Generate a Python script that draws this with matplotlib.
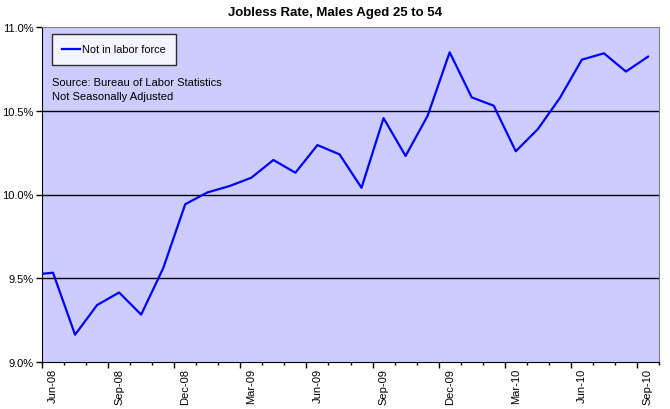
import numpy as np
import matplotlib
matplotlib.use('Agg')
import matplotlib.pyplot as plt
from matplotlib.ticker import FixedLocator, FuncFormatter

plt.rcParams['font.family'] = ['Liberation Sans', 'DejaVu Sans']

# monthly, May-08 .. Sep-10 (May-08 sits just outside the left edge)
months = ['May-08', 'Jun-08', 'Jul-08', 'Aug-08', 'Sep-08', 'Oct-08', 'Nov-08', 'Dec-08',
          'Jan-09', 'Feb-09', 'Mar-09', 'Apr-09', 'May-09', 'Jun-09', 'Jul-09', 'Aug-09',
          'Sep-09', 'Oct-09', 'Nov-09', 'Dec-09', 'Jan-10', 'Feb-10', 'Mar-10', 'Apr-10',
          'May-10', 'Jun-10', 'Jul-10', 'Aug-10', 'Sep-10']
not_in_lf = [9.52, 9.533, 9.163, 9.34, 9.415, 9.283, 9.56, 9.942,
             10.012, 10.05, 10.10, 10.206, 10.13, 10.295, 10.24, 10.04,
             10.456, 10.23, 10.47, 10.849, 10.58, 10.53, 10.258, 10.39,
             10.576, 10.805, 10.843, 10.734, 10.823]
label_months = ['Jun-08', 'Sep-08', 'Dec-08', 'Mar-09', 'Jun-09', 'Sep-09', 'Dec-09',
                'Mar-10', 'Jun-10', 'Sep-10']

x = np.arange(len(months)) - 1  # Jun-08 -> 0

fig = plt.figure(figsize=(6.7, 4.1), dpi=100)
ax = fig.add_axes([42/670, 1 - 363/410, (659 - 42)/670, (363 - 28)/410])
ax.set_facecolor('#CCCCFF')

for g in [9.5, 10.0, 10.5]:
    ax.axhline(g, color='black', lw=1.0, zorder=1)

ax.plot(x, not_in_lf, color='#0000FF', lw=1.6, zorder=3, label='Not in labor force')

ax.set_xlim(-0.5, 27.5)
ax.set_ylim(9.0, 11.0)

ax.set_yticks([9.0, 9.5, 10.0, 10.5, 11.0])
ax.yaxis.set_major_formatter(FuncFormatter(lambda v, p: f'{v:.1f}%'))

# ticks at category boundaries, labels at category centres
ax.xaxis.set_major_locator(FixedLocator(np.arange(-0.5, 28, 3)))
ax.xaxis.set_minor_locator(FixedLocator(np.arange(-0.5, 28, 1)))
ax.xaxis.set_major_formatter(FuncFormatter(lambda v, p: ''))
ax.tick_params(axis='x', which='major', length=4, width=1, direction='out')
ax.tick_params(axis='x', which='minor', length=2, width=1, direction='out')
ax.tick_params(axis='y', length=4, width=1, direction='out', labelsize=8, pad=2)

lbl_pos = [months.index(m) - 1 for m in label_months]
for p, m in zip(lbl_pos, label_months):
    ax.text(p, -0.018, m, transform=ax.get_xaxis_transform(), rotation=90,
            ha='center', va='top', fontsize=8)

ax.spines['top'].set_color('#808080')
ax.spines['right'].set_color('#808080')
ax.spines['left'].set_color('black')
ax.spines['bottom'].set_color('black')

leg = ax.legend(loc='upper left', bbox_to_anchor=(10/617, 1 - 7/335), fontsize=7.8,
                frameon=True, fancybox=False, handlelength=1.6, borderpad=0.95,
                borderaxespad=0, handletextpad=0.2)
leg.get_frame().set_edgecolor('black')
leg.get_frame().set_facecolor('white')
leg.get_frame().set_linewidth(1.0)

ax.text(10/617, 1 - 50/335, 'Source: Bureau of Labor Statistics\nNot Seasonally Adjusted',
        transform=ax.transAxes, ha='left', va='top', fontsize=8, linespacing=1.45)

fig.text(335/670, 1 - 13/410, 'Jobless Rate, Males Aged 25 to 54', ha='center', va='center',
         fontsize=9.5, fontweight='bold')

fig.savefig('out.png', dpi=100)
